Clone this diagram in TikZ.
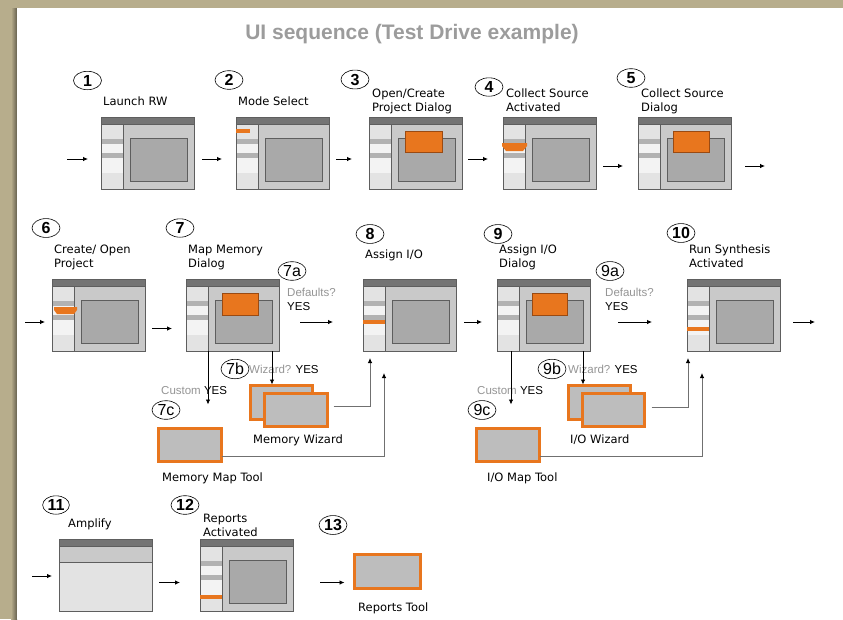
\documentclass[tikz,border=0pt]{standalone}
\usepackage{fontspec}
\setmainfont{DejaVu Sans}
\newfontfamily\arialfont{Liberation Sans}
\usetikzlibrary{shapes.geometric,arrows.meta,calc}

\definecolor{bgbeige}{HTML}{B7AD8C}
\definecolor{winframe}{HTML}{5E5E5E}
\definecolor{titlebar}{HTML}{747474}
\definecolor{panegray}{HTML}{C9C9C9}
\definecolor{sidegray}{HTML}{E3E3E3}
\definecolor{sidelight}{HTML}{F3F3F3}
\definecolor{stripe}{HTML}{B2B2B2}
\definecolor{innergray}{HTML}{A9A9A9}
\definecolor{orangeui}{HTML}{E8761E}
\definecolor{orangedark}{HTML}{9A4A12}
\definecolor{toolgray}{HTML}{BDBDBD}
\definecolor{headgray}{HTML}{9C9C9C}
\definecolor{notegray}{HTML}{959595}
\definecolor{linkgray}{HTML}{707070}

\tikzset{
  win/.style={draw=winframe, line width=0.8pt, fill=panegray, minimum width=93pt,
    minimum height=72pt, inner sep=0pt, outer sep=0pt, anchor=north west},
  tool/.style={draw=orangeui, line width=3pt, fill=toolgray, inner sep=0pt,
    outer sep=0pt, anchor=north west},
  num/.style={ellipse, draw, line width=0.6pt, inner sep=1pt, minimum width=28pt,
    minimum height=17pt, font=\arialfont\bfseries\fontsize{16}{16}\selectfont},
  subnum/.style={num, font=\arialfont\fontsize{16}{16}\selectfont},
  lbl/.style={anchor=base west, inner sep=0pt, align=left,
    font=\fontsize{11.5}{14}\selectfont},
  note/.style={anchor=base west, inner sep=0pt, align=left,
    font=\arialfont\fontsize{11.5}{14}\selectfont},
  flow/.style={-{Latex[length=5pt,width=4.5pt]}, line width=0.8pt},
  feed/.style={-{Latex[length=5pt,width=4.5pt,color=black]}, line width=0.8pt, draw=linkgray},
  dialog/.style={fill=orangeui, draw=orangedark, line width=0.6pt},
}

% standard application window: title bar, side panel with tabs, work area
\newcommand\uiwin[2]{%
  \begin{scope}[shift={(#1.north west)}]
    \fill[sidegray] (0,7) rectangle (22,72);
    \fill[sidelight] (0,27) rectangle (22,36);
    \fill[sidelight] (0,41) rectangle (22,56);
    \fill[stripe] (0,22) rectangle (22,27);
    \fill[stripe] (0,36) rectangle (22,41);
    \fill[titlebar] (0,0) rectangle (93,7);
    \draw[winframe, line width=0.6pt] (0,7) -- (93,7);
    \draw[winframe, line width=0.8pt] (22,7) -- (22,72);
    \draw[winframe, line width=0.8pt, fill=innergray] (29,21) rectangle (86,64);
    \draw[winframe, line width=0.8pt] (0,0) rectangle (93,72);
    #2
  \end{scope}}

\begin{document}
\begin{tikzpicture}[x=1pt, y=-1pt]
\useasboundingbox (0,0) rectangle (843,619);
\fill[bgbeige] (0,0) rectangle (843,619);
\shade[left color=bgbeige, right color=bgbeige!55!black] (11,8) rectangle (17,619);
\fill[white] (17,8) rectangle (843,619);

\node[font=\arialfont\bfseries\fontsize{21}{21}\selectfont, text=headgray, anchor=base]
  (title) at (412,39) {UI sequence (Test Drive example)};

% ---------- row 1 ----------
\node[num] (c1) at (87.5,80.5) {1};
\node[num] (c2) at (229,80) {2};
\node[num] (c3) at (355,79.5) {3};
\node[num] (c4) at (489,87) {4};
\node[num] (c5) at (631,78) {5};

% two-line labels sit on the baseline of their last line
\node[lbl] (l1) at (103,105) {Launch RW};
\node[lbl] (l2) at (238,105) {Mode Select};
\node[lbl] (l3) at (372,111) {Open/Create\\Project Dialog};
\node[lbl] (l4) at (506,111) {Collect Source\\Activated};
\node[lbl] (l5) at (641,111) {Collect Source\\Dialog};

\node[win] (w1) at (101,117) {};
\uiwin{w1}{}
\node[win] (w2) at (236,117) {};
\uiwin{w2}{\fill[orangeui] (0,12) rectangle (14,16);}
\node[win] (w3) at (369,117) {};
\uiwin{w3}{\draw[dialog] (36,14) rectangle (73,35);}
\node[win] (w4) at (503,117) {};
\uiwin{w4}{\fill[orangeui] (-1,26) -- (24,26) -- (24,29) -- (20,34) -- (3,34) -- (-1,29) -- cycle;}
\node[win] (w5) at (638,117) {};
\uiwin{w5}{\draw[dialog] (35,14) rectangle (71,35);}

\coordinate (in1) at (67,159);
\coordinate (out5) at (765,166);
\draw[flow, shorten >=13pt] (in1) -- (in1 -| w1.west);
\draw[flow, shorten <=8pt, shorten >=14pt] ([yshift=-6pt]w1.east) -- ([yshift=-6pt]w2.west);
\draw[flow, shorten <=7pt, shorten >=17pt] ([yshift=-6pt]w2.east) -- ([yshift=-6pt]w3.west);
\draw[flow, shorten <=6pt, shorten >=15pt] ([yshift=-6pt]w3.east) -- ([yshift=-6pt]w4.west);
\draw[flow, shorten <=7pt, shorten >=15pt] ([yshift=-13pt]w4.east) -- ([yshift=-13pt]w5.west);
\draw[flow, shorten <=14pt] (out5 -| w5.east) -- (out5);

% ---------- row 2 ----------
\node[num] (c6) at (46,228) {6};
\node[num] (c7) at (180,228) {7};
\node[subnum] (c7a) at (292,271) {7a};
\node[num] (c8) at (370,234) {8};
\node[num] (c9) at (498,234) {9};
\node[subnum] (c9a) at (610,271) {9a};
\node[num] (c10) at (681,233) {10};

\node[lbl] (l6) at (54,267) {Create/ Open\\Project};
\node[lbl] (l7) at (188,267) {Map Memory\\Dialog};
\node[lbl] (l8) at (365,258) {Assign I/O};
\node[lbl] (l9) at (499,267) {Assign I/O\\Dialog};
\node[lbl] (l10) at (689,267) {Run Synthesis\\Activated};

\node[note] (d7) at (287,310) {\textcolor{notegray}{Defaults?}\\YES};
\node[note] (d9) at (605,310) {\textcolor{notegray}{Defaults?}\\YES};

\node[win] (w6) at (52,279) {};
\uiwin{w6}{\fill[orangeui] (2,28) -- (25,28) -- (25,31) -- (22,35) -- (5,35) -- (2,31) -- cycle;}
\node[win] (w7) at (186,279) {};
\uiwin{w7}{\draw[dialog] (36,14) rectangle (72,36);}
\node[win] (w8) at (363,279) {};
\uiwin{w8}{\fill[orangeui] (0,41) rectangle (22,45);}
\node[win] (w9) at (497,279) {};
\uiwin{w9}{\draw[dialog] (35,14) rectangle (70,36);}
\node[win] (w10) at (687,279) {};
\uiwin{w10}{\fill[orangeui] (0,48) rectangle (22,52);}

\coordinate (in6) at (25,322);
\coordinate (out10) at (815,322);
\draw[flow, shorten >=7pt] (in6) -- (in6 -| w6.west);
\draw[flow, shorten <=7pt, shorten >=14pt] ([yshift=-13.5pt]w6.east) -- ([yshift=-13.5pt]w7.west);
\draw[flow, shorten <=21pt, shorten >=30pt] ([yshift=-7pt]w7.east) -- ([yshift=-7pt]w8.west);
\draw[flow, shorten <=8pt, shorten >=15pt] ([yshift=-7pt]w8.east) -- ([yshift=-7pt]w9.west);
\draw[flow, shorten <=28pt, shorten >=35pt] ([yshift=-7pt]w9.east) -- ([yshift=-7pt]w10.west);
\draw[flow, shorten <=13pt] (out10 -| w10.east) -- (out10);

% ---------- memory branch (7b, 7c) ----------
\node[subnum] (c7b) at (235,369) {7b};
\node[subnum] (c7c) at (166,410) {7c};
\node[note] (q7b) at (249,373) {\textcolor{notegray}{Wizard?} YES};
\node[note] (q7c) at (161,394) {\textcolor{notegray}{Custom} YES};

\node[tool, minimum width=62pt, minimum height=34pt] (mwb) at (250.5,385.5) {};
\node[tool, minimum width=63pt, minimum height=33pt] (mwf) at (264.5,393.5) {};
\node[tool, minimum width=63pt, minimum height=33pt] (mmt) at (158.5,428.5) {};
\node[lbl] (lmw) at (253,443) {Memory Wizard};
\node[lbl] (lmm) at (162,481) {Memory Map Tool};

\coordinate (c7s) at ([xshift=22pt]w7.south west);
\coordinate (c7w) at ([xshift=86pt]w7.south west);
\draw[flow, shorten >=24pt] (c7s) -- (c7s |- mmt.north);
\draw[flow, shorten >=1pt] (c7w) -- (c7w |- mwb.north);
\coordinate (m7) at ([yshift=4pt]mwf.east);
\coordinate (t8a) at ([xshift=7pt]w8.south west);
\draw[feed, shorten <=6pt, shorten >=7pt] (m7) -| (t8a);
\coordinate (mm7) at ([yshift=-11pt]mmt.east);
\coordinate (t8b) at ([xshift=21pt]w8.south west);
\draw[feed, shorten >=22pt] (mm7) -| (t8b);

% ---------- I/O branch (9b, 9c) ----------
\node[subnum] (c9b) at (552,369) {9b};
\node[subnum] (c9c) at (482,410) {9c};
\node[note] (q9b) at (568,373) {\textcolor{notegray}{Wizard?} YES};
\node[note] (q9c) at (477,394) {\textcolor{notegray}{Custom} YES};

\node[tool, minimum width=62pt, minimum height=34pt] (iwb) at (568.5,385.5) {};
\node[tool, minimum width=62pt, minimum height=33pt] (iwf) at (582.5,393.5) {};
\node[tool, minimum width=63pt, minimum height=33pt] (iomt) at (476.5,428.5) {};
\node[lbl] (liw) at (570,443) {I/O Wizard};
\node[lbl] (lim) at (487,481) {I/O Map Tool};

\coordinate (c9s) at ([xshift=14pt]w9.south west);
\coordinate (c9w) at ([xshift=86pt]w9.south west);
\draw[flow, shorten >=24pt] (c9s) -- (c9s |- iomt.north);
\draw[flow, shorten >=1pt] (c9w) -- (c9w |- iwb.north);
\coordinate (m9) at ([yshift=3pt]iwf.east);
\coordinate (t10a) at ([xshift=1pt]w10.south west);
\draw[feed, shorten <=7pt, shorten >=7pt] (m9) -| (t10a);
\coordinate (mm9) at ([yshift=-11pt]iomt.east);
\coordinate (t10b) at ([xshift=15pt]w10.south west);
\draw[feed, shorten >=22pt] (mm9) -| (t10b);

% ---------- row 3 ----------
\node[num, minimum width=22pt, minimum height=16pt] (c11) at (56,505) {11};
\node[num, minimum width=22pt, minimum height=16pt] (c12) at (185,505) {12};
\node[num, minimum width=22pt, minimum height=16pt] (c13) at (333,525) {13};
\node[lbl] (l11) at (68,527) {Amplify};
\node[lbl] (l12) at (203,536) {Reports\\Activated};

\node[win, fill=sidegray] (w11) at (59,539) {};
\begin{scope}[shift={(w11.north west)}]
  \fill[panegray] (0,7) rectangle (93,23);
  \fill[titlebar] (0,0) rectangle (93,7);
  \draw[winframe, line width=0.6pt] (0,7) -- (93,7) (0,23) -- (93,23);
  \draw[winframe, line width=0.8pt] (0,0) rectangle (93,72);
\end{scope}
\node[win] (w12) at (200,539) {};
\uiwin{w12}{\fill[orangeui] (0,56) rectangle (22,60);}

\node[tool, minimum width=66pt, minimum height=34pt] (rtool) at (354.5,554.5) {};
\node[lbl] (lrt) at (358,611) {Reports Tool};

\coordinate (in11) at (32,576);
\coordinate (a12) at ([yshift=-7.5pt]w12.east);
\draw[flow, shorten >=7pt] (in11) -- (in11 -| w11.west);
\draw[flow, shorten <=7pt, shorten >=20pt] ([yshift=-7.5pt]w11.east) -- ([yshift=-7.5pt]w12.west);
\draw[flow, shorten <=27pt, shorten >=10pt] (a12) -- (a12 -| rtool.west);
\end{tikzpicture}
\end{document}
